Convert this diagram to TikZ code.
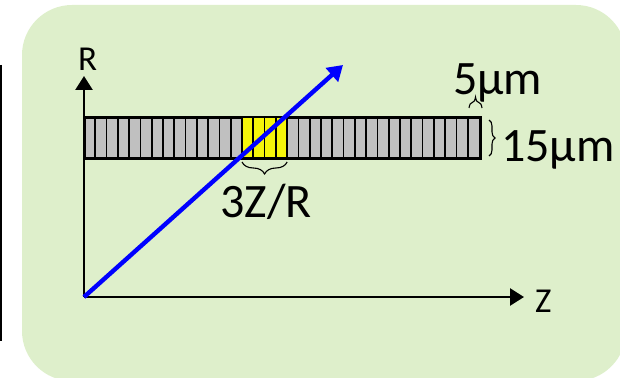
\documentclass[tikz,border=0pt]{standalone}
\usepackage{fontspec}
\setmainfont{Carlito}
\usepackage{xcolor}
\usetikzlibrary{positioning,arrows.meta,decorations.pathreplacing,calc}

\definecolor{panelgreen}{RGB}{222,239,203}
\definecolor{cellgray}{RGB}{192,192,192}
\definecolor{cellyellow}{RGB}{245,245,10}

\begin{document}
\begin{tikzpicture}[x=1pt, y=-1pt,
  axis/.style={line width=2.5pt, -{Triangle[length=14pt,width=17pt]}},
  ray/.style={blue, line width=4.4pt, -{Triangle[length=15pt,width=18pt]}},
  strip/.style={draw=black, line width=2pt, fill=cellgray, inner sep=0pt,
                minimum width=395pt, minimum height=40pt, anchor=north west},
  brc/.style={decorate, decoration={brace, amplitude=#1}, line width=1.1pt},
  lbl/.style={inner sep=0pt, font=\fontsize{48}{52}\selectfont},
  axlbl/.style={inner sep=0pt, font=\fontsize{35}{40}\selectfont}]

\clip (0,0) rectangle (620,377);
\fill[panelgreen, rounded corners=50pt] (22,5) rectangle (626,381);
\draw[line width=1.5pt] (1,65) -- (1,341);

\coordinate (o)    at (84,297);
\coordinate (rtip) at (84,76);
\coordinate (ztip) at (524,297);
\coordinate (hit)  at (343,65);

% detector strip: 35 cells, 4 of them hit
\node[strip] (det) at (84,117) {};
\fill[cellyellow] ($(det.north west)+(14*11.286,0)$) rectangle ++(4*11.286,40);
\foreach \i in {1,...,34}{
  \draw[line width=1.7pt] ($(det.north west)+(\i*11.286,0)$) -- ++(0,40);
}
\draw[line width=2pt] (det.north west) rectangle (det.south east);

\coordinate (ya) at ($(det.south west)+(14*11.286,3)$);
\coordinate (yb) at ($(det.south west)+(18*11.286,3)$);
\coordinate (ca) at ($(det.north east)+(-12,-9)$);
\coordinate (cb) at ($(det.north east)+(1,-9)$);

\draw[axis] (o) -- (rtip);
\draw[axis] (o) -- (ztip);
\node[axlbl, anchor=base west] (rlab) at (78,71) {R};
\node[axlbl, anchor=base west] (zlab) at (535,312) {Z};

\draw[ray] (o) -- (hit);

\draw[brc=12pt] (yb) -- (ya);
\node[lbl, anchor=base] (zr) at (266,217) {3Z/R};

\draw[brc=11pt] (ca) -- (cb);
\node[lbl, anchor=base west] (pitch) at (453,95) {5µm};

\draw[brc=6pt] ($(det.north east)+(8,3)$) -- ($(det.south east)+(8,-3)$);
\node[lbl, anchor=base west] (thick) at (501,161) {15µm};
\end{tikzpicture}
\end{document}
